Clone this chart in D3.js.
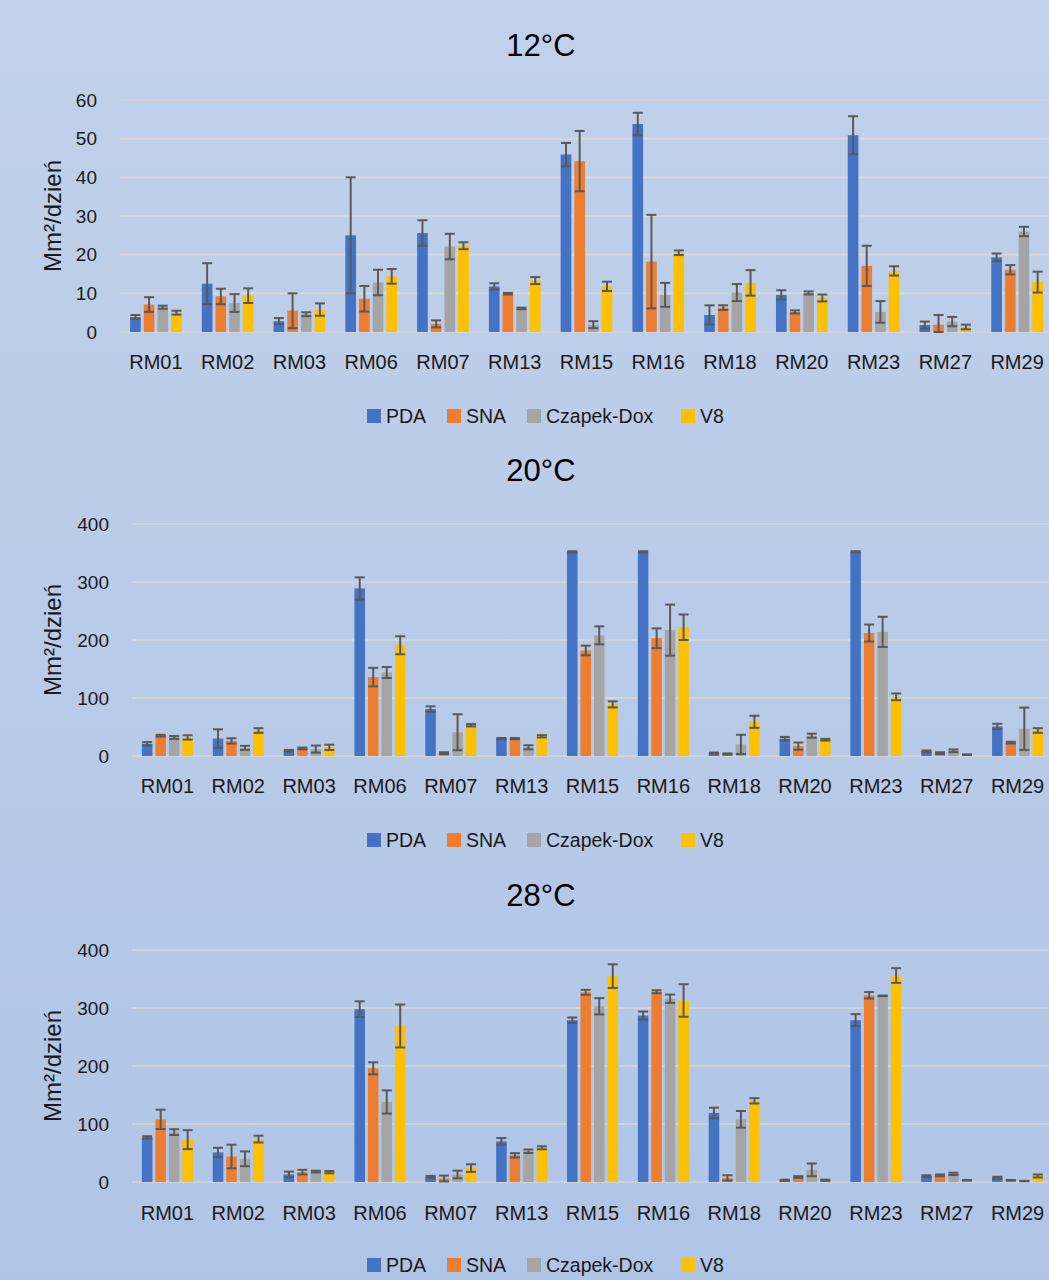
<!DOCTYPE html>
<html>
<head>
<meta charset="utf-8">
<script src="https://cdn.jsdelivr.net/npm/d3@7"></script>
<style>
  body { margin: 0; padding: 0; }
  svg { display: block; font-family: "Liberation Sans", Arial, sans-serif; }
</style>
</head>
<body>
<div id="chart"></div>
<script>
// categories and series
var categories = ["RM01","RM02","RM03","RM06","RM07","RM13","RM15","RM16","RM18","RM20","RM23","RM27","RM29"];
var seriesNames = ["PDA","SNA","Czapek-Dox","V8"];
var seriesColors = ["#4472C4","#ED7D31","#A5A5A5","#FFC000"];

// 12°C
var pda12     = [3.9, 12.5, 2.8, 25.0, 25.6, 11.8, 45.9, 53.8, 4.4, 9.6, 50.9, 1.8, 19.3];
var sna12     = [7.1, 9.2, 5.5, 8.6, 2.1, 9.9, 44.2, 18.2, 6.3, 5.2, 17.1, 1.9, 16.1];
var czapek12  = [6.4, 7.5, 4.6, 12.8, 22.1, 6.1, 1.9, 9.6, 10.2, 10.1, 5.2, 2.7, 26.0];
var v812      = [5.0, 9.4, 5.8, 14.4, 22.3, 13.3, 11.8, 20.5, 12.7, 8.8, 15.8, 1.3, 12.9];
var pda12Err    = [0.5, 5.3, 0.8, 15.0, 3.3, 0.8, 3.0, 2.9, 2.5, 1.2, 4.9, 0.9, 1.0];
var sna12Err    = [1.9, 2.0, 4.5, 3.3, 0.9, 0.2, 7.8, 12.1, 0.6, 0.4, 5.2, 2.5, 1.2];
var czapek12Err = [0.4, 2.3, 0.5, 3.3, 3.3, 0.2, 0.9, 3.1, 2.2, 0.4, 2.8, 1.2, 1.2];
var v812Err     = [0.5, 1.9, 1.6, 1.9, 0.9, 0.9, 1.2, 0.6, 3.3, 0.9, 1.2, 0.6, 2.7];

// 20°C
var pda20     = [21, 30, 9, 289, 81, 30, 352, 352, 5, 30, 352, 8, 51];
var sna20     = [35, 26, 13, 136, 5, 30, 182, 203, 3.5, 17, 212, 5, 23];
var czapek20  = [32, 14, 12, 144, 41, 15, 208, 217, 20, 35, 214, 9, 47];
var v820      = [32, 44, 15, 191, 53, 34, 89, 222, 59, 28, 102, 2.3, 44];
var pda20Err    = [3, 16, 1.5, 19, 4.6, 1, 1, 1, 1, 2.9, 1, 1.5, 4.6];
var sna20Err    = [1.5, 4.6, 1.5, 16, 1.5, 1, 8.3, 17, 1, 6.3, 14.7, 1.5, 1.5];
var czapek20Err = [2.5, 3.5, 6, 9.5, 31, 3.5, 15.5, 44, 16.6, 3.5, 26, 2.3, 36.5];
var v820Err     = [3.7, 4, 4.6, 15.5, 2, 2, 5.2, 22, 10.4, 1.5, 5.8, 0.5, 4];

// 28°C
var pda28     = [77, 51, 13, 298, 9, 70, 279, 287, 119, 3, 279, 10, 7.5];
var sna28     = [108, 44, 17, 196, 6, 46, 327, 328, 7, 8.6, 322, 11.5, 3];
var czapek28  = [86, 40, 18, 138, 13, 53, 303, 316, 108, 21, 321, 14, 1.7];
var v828      = [73, 74, 17, 269, 24, 59, 355, 313, 140, 3, 356, 3, 10.4];
var pda28Err    = [2, 8, 4.9, 13.5, 1.5, 5.8, 4.6, 6.9, 9.2, 1, 10.4, 1.5, 1.5];
var sna28Err    = [16.7, 20.4, 4, 10.4, 5, 3.7, 4.3, 2.6, 4.6, 1.5, 5.5, 1.5, 0.5];
var czapek28Err = [5, 12.7, 1.5, 20, 6.6, 3, 14, 7.2, 14.4, 10.9, 0.5, 2, 0.3];
var v828Err     = [16.4, 5.8, 2, 37, 6.6, 2.6, 20.4, 28, 4.6, 1, 12.7, 0.5, 2.6];

var width = 1049, height = 1280;

var svg = d3.select("#chart").append("svg")
    .attr("width", width)
    .attr("height", height);

var grad = svg.append("defs").append("linearGradient")
    .attr("id", "bg").attr("x1", 0).attr("y1", 0).attr("x2", 0).attr("y2", 1);
grad.append("stop").attr("offset", "0%").attr("stop-color", "#c1d1ea");
grad.append("stop").attr("offset", "100%").attr("stop-color", "#b0c5e6");

svg.append("rect").attr("width", width).attr("height", height).attr("fill", "url(#bg)");

var panels = [
  { title: "12°C", titleY: 45, top: 100, bottom: 332, left: 120, right: 1053, max: 60, step: 10,
    catY: 362, legendY: 416, values: [pda12, sna12, czapek12, v812], errs: [pda12Err, sna12Err, czapek12Err, v812Err] },
  { title: "20°C", titleY: 470, top: 524, bottom: 756, left: 132, right: 1053, max: 400, step: 100,
    catY: 786, legendY: 840, values: [pda20, sna20, czapek20, v820], errs: [pda20Err, sna20Err, czapek20Err, v820Err] },
  { title: "28°C", titleY: 895, top: 950, bottom: 1182, left: 132, right: 1053, max: 400, step: 100,
    catY: 1213, legendY: 1265, values: [pda28, sna28, czapek28, v828], errs: [pda28Err, sna28Err, czapek28Err, v828Err] }
];

panels.forEach(function(p) {
  var g = svg.append("g");

  var x0 = d3.scaleBand().domain(categories).range([p.left, p.right])
      .paddingInner(0.28).paddingOuter(0.14);
  var x1 = d3.scaleBand().domain(seriesNames).range([0, x0.bandwidth()]).paddingInner(0.22);
  var y = d3.scaleLinear().domain([0, p.max]).range([p.bottom, p.top]);
  var ticks = d3.range(0, p.max + p.step / 2, p.step);

  // title
  g.append("text")
    .attr("x", 541).attr("y", p.titleY)
    .attr("text-anchor", "middle").attr("dominant-baseline", "central")
    .attr("font-size", 31).attr("fill", "#000")
    .text(p.title);

  // gridlines
  g.selectAll(".grid").data(ticks).enter().append("line")
    .attr("x1", p.left).attr("x2", p.right)
    .attr("y1", function(d) { return y(d); }).attr("y2", function(d) { return y(d); })
    .attr("stroke", "#d9d9d9").attr("stroke-width", 1.6);

  // y axis
  var yAxis = g.append("g")
    .attr("transform", "translate(" + (p.left - 23) + ",0)")
    .call(d3.axisLeft(y).tickValues(ticks).tickSize(0).tickPadding(0));
  yAxis.select(".domain").remove();
  yAxis.selectAll("text")
    .attr("font-size", 19).attr("fill", "#1a1a1a")
    .attr("font-family", "Liberation Sans, Arial, sans-serif");

  // y title
  g.append("text")
    .attr("transform", "translate(52," + ((p.top + p.bottom) / 2) + ") rotate(-90)")
    .attr("text-anchor", "middle").attr("dominant-baseline", "central")
    .attr("font-size", 24).attr("fill", "#1a1a1a")
    .text("Mm²/dzień");

  // bars
  var groups = g.selectAll(".grp").data(categories).enter().append("g")
    .attr("transform", function(d) { return "translate(" + x0(d) + ",0)"; });

  groups.selectAll("rect")
    .data(function(d, i) { return seriesNames.map(function(s, k) { return { s: s, k: k, v: p.values[k][i], e: p.errs[k][i] }; }); })
    .enter().append("rect")
    .attr("x", function(d) { return x1(d.s); })
    .attr("y", function(d) { return y(d.v); })
    .attr("width", x1.bandwidth())
    .attr("height", function(d) { return p.bottom - y(d.v); })
    .attr("fill", function(d) { return seriesColors[d.k]; });

  // error bars
  var eb = groups.selectAll(".eb")
    .data(function(d, i) { return seriesNames.map(function(s, k) { return { s: s, k: k, v: p.values[k][i], e: p.errs[k][i] }; }); })
    .enter().append("g").attr("class", "eb")
    .attr("stroke", "#595959").attr("stroke-width", 2);
  var cx = function(d) { return x1(d.s) + x1.bandwidth() / 2; };
  eb.append("line")
    .attr("x1", cx).attr("x2", cx)
    .attr("y1", function(d) { return y(d.v + d.e); })
    .attr("y2", function(d) { return y(Math.max(0, d.v - d.e)); });
  eb.append("line")
    .attr("x1", function(d) { return cx(d) - 5; }).attr("x2", function(d) { return cx(d) + 5; })
    .attr("y1", function(d) { return y(d.v + d.e); }).attr("y2", function(d) { return y(d.v + d.e); });
  eb.append("line")
    .attr("x1", function(d) { return cx(d) - 5; }).attr("x2", function(d) { return cx(d) + 5; })
    .attr("y1", function(d) { return y(Math.max(0, d.v - d.e)); }).attr("y2", function(d) { return y(Math.max(0, d.v - d.e)); });

  // category labels
  g.selectAll(".cat").data(categories).enter().append("text")
    .attr("x", function(d) { return x0(d) + x0.bandwidth() / 2; })
    .attr("y", p.catY)
    .attr("text-anchor", "middle").attr("dominant-baseline", "central")
    .attr("font-size", 20).attr("fill", "#1a1a1a")
    .text(function(d) { return d; });

  // legend
  var legendX = [367, 447, 527, 681];
  var lg = g.selectAll(".lg").data(seriesNames).enter().append("g")
    .attr("transform", function(d, i) { return "translate(" + legendX[i] + "," + p.legendY + ")"; });
  lg.append("rect")
    .attr("x", 0).attr("y", -7).attr("width", 14).attr("height", 14)
    .attr("fill", function(d, i) { return seriesColors[i]; });
  lg.append("text")
    .attr("x", 19).attr("y", 0).attr("dominant-baseline", "central")
    .attr("font-size", 19.5).attr("fill", "#1a1a1a")
    .text(function(d) { return d; });
});
</script>
</body>
</html>
